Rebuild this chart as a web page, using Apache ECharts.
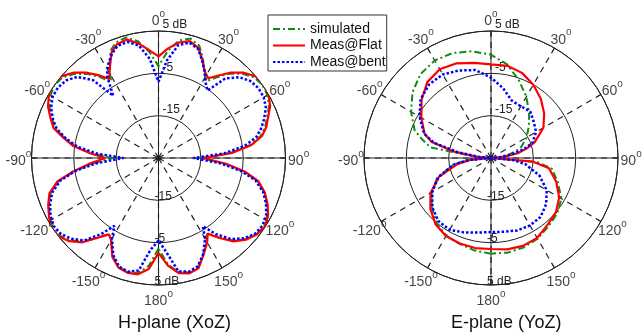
<!DOCTYPE html>
<html>
<head>
<meta charset="utf-8">
<script src="https://cdn.jsdelivr.net/npm/echarts@6/dist/echarts.min.js"></script>
<style>
  html, body { margin: 0; padding: 0; background: #fff; }
  #chart { width: 642px; height: 336px; }
</style>
</head>
<body>
<div id="chart"></div>
<script>
// H-plane (XoZ), angle in deg, gain in dB
var hAngles = [-180,-175,-170,-165,-160,-155,-150,-147,-143,-138,-133,-128,-123,-118,-113,-108,-103,-99,-95,-90,
  -86,-82,-78,-74,-70,-65,-60,-55,-50,-45,-40,-36,-32,-28,-24,-20,-15,-10,-5,0,
  5,10,15,20,24,28,32,36,40,45,50,55,60,65,70,74,78,82,86,90,
  95,99,103,108,113,118,123,128,133,138,143,147,150,155,160,165,170,175,180];
var hSim = [-3.6,0.5,2.6,2.9,2.4,0.6,-2.6,-3.6,-1.6,1.6,3.5,4.7,5.0,4.1,3.1,1.8,-0.8,-4.8,-9,-14.3,
  -9,-5,-2.3,0.4,1.7,3.4,4.5,5.0,4.6,3.1,0.9,-1.3,-3.8,-0.3,2.8,4.1,4.5,3.0,0.2,-3.3,
  0.4,3.2,4.2,3.2,0.8,-2.0,-3.6,-1.4,1.0,3.1,4.6,5.0,4.7,3.8,2.2,1.2,-0.4,-3.2,-8,-15,
  -9.2,-4.6,-1,1.2,2.8,4.1,4.7,4.3,3.1,1.3,-1.6,-3.8,-2.2,0,2.4,3.0,2.4,0.2,-3.6];
var hFlat = [-2.6,1.3,2.9,3.1,2.6,0.8,-2.6,-3.5,-1.5,1.8,3.8,5.0,5.3,4.3,3.3,2.1,-0.5,-4.6,-8.4,-12.4,
  -8.8,-4.7,-2,0.8,2.1,3.8,4.9,5.4,5.0,3.5,1.3,-0.8,-3.0,-0.6,2.3,3.6,4.0,2.5,0.6,-1.0,
  1.0,2.7,3.6,2.6,0.4,-1.8,-2.8,-0.9,1.3,3.5,5.0,5.3,5.0,4.1,2.5,1.5,0,-2.8,-7.5,-14.3,
  -8.8,-4.3,-0.8,1.4,3.0,4.3,4.9,4.4,3.3,1.5,-1.4,-3.7,-2.0,0.2,2.7,3.2,2.6,0.5,-2.6];
var hBent = [-5.5,-3.2,2.0,2.8,2.3,0.3,-3.0,-5.9,-2.5,1.2,3.0,4.2,4.5,3.9,2.8,1.4,-1.2,-5.0,-10,-16.7,
  -10.5,-5.6,-2.6,0,1.5,3.0,3.9,4.0,3.5,2.1,-1.0,-6.8,-2.0,0.2,2.0,3.2,3.4,2.0,-1.5,-7.0,
  -1.8,2.1,3.2,2.4,0.3,-1.8,-4,-5.3,-0.5,2.0,3.3,3.8,3.7,3.0,1.5,0.2,-1.4,-4.5,-9.5,-16.7,
  -10.2,-5.2,-1.5,1.0,2.6,3.8,4.3,4.0,2.8,0.8,-2.5,-5.8,-3.0,0,2.2,2.8,2.2,-2.5,-5.5];

// E-plane (YoZ)
var eAngles = [-180,-170,-160,-150,-140,-130,-120,-110,-100,-95,-90,-85,-80,-75,-70,-60,-50,-40,-30,-20,-10,0,
  10,20,30,40,50,60,70,75,80,85,90,95,100,110,120,130,140,150,160,170,180];
var eSim = [-2.4,-2.8,-3.4,-3.8,-5.0,-6.8,-8.8,-11.5,-16,-19,-25,-21,-10.5,-8.2,-5.8,-3.2,-0.8,0.9,1.6,1.4,0.6,-0.6,
  -2.6,-5.6,-8.3,-11,-13.3,-15.3,-17.4,-19,-21,-23,-25,-14,-10.4,-8.2,-5.8,-4.6,-3.9,-3.0,-2.5,-2.3,-2.4];
var eFlat = [-3.5,-3.4,-3.5,-3.7,-4.6,-6.3,-8.5,-11.9,-17,-20,-25,-21.7,-15.9,-10.5,-8.3,-6.0,-3.6,-1.6,-0.8,-1.2,-2.2,-2.9,
  -2.9,-3.6,-5.0,-6.7,-8.6,-10.7,-14,-16.2,-18.6,-22,-25,-15,-11.1,-8.6,-6.4,-5.0,-4.3,-3.2,-2.9,-3.1,-3.5];
var eBent = [-7.5,-7.1,-6.3,-5.4,-5.6,-6.9,-9.0,-11.8,-16,-20,-25,-22,-17,-11,-8.2,-5.5,-3.3,-2.3,-2.2,-3.0,-3.9,-6.0,
  -8.3,-10.6,-10.9,-10.6,-11.8,-12.7,-14.6,-17,-20,-23,-25,-20,-16.8,-12.8,-9.8,-8.0,-6.8,-6.6,-6.8,-7.3,-7.5];

var rTicks = ['-25', '-15', '-5', '5 dB'];   // radial tick labels, axis starts at -25 dB
var angleTicks = [-150, -120, -90, -60, -30, 0, 30, 60, 90, 120, 150, 180];
var names = ['simulated', 'Meas@Flat', 'Meas@bent'];
var centers = [[158.5, 158], [491, 158]];
var R = 127;
var LABEL_R = 33.1;   // angle labels sit a little outside the 5 dB ring (radius units)
var FONT = '"Liberation Sans", Arial, sans-serif';

function toPolar(angles, vals) {
  return angles.map(function (a, i) { return [Math.max(0, vals[i] + 25), a]; });
}

var polars = [], angleAxes = [], radiusAxes = [], series = [];
var styles = [
  { color: '#118a11', width: 2, type: [7, 3, 2, 3] },
  { color: '#ff0000', width: 2.2, type: 'solid' },
  { color: '#0000ff', width: 2.5, type: [2.5, 2] }
];

centers.forEach(function (c, k) {
  // main polar: dashed spokes, circles, bottom radius labels
  polars.push({ center: c, radius: R });
  // overlay polar: solid cross, top radius labels
  polars.push({ center: c, radius: R });
  var p0 = k * 2, p1 = k * 2 + 1;

  angleAxes.push({
    polarIndex: p0, type: 'value', min: -180, max: 180, interval: 30,
    startAngle: 270, clockwise: true,
    axisLine: { lineStyle: { color: '#222', width: 1 } },
    axisTick: { show: true, inside: true, length: 5, lineStyle: { color: '#222' } },
    splitLine: { show: true, lineStyle: { color: '#222', width: 1.2, type: [6, 5] } },
    axisLabel: { show: false }
  });
  angleAxes.push({
    polarIndex: p1, type: 'value', min: -180, max: 180, interval: 90,
    startAngle: 90, clockwise: true,
    axisLine: { show: false }, axisTick: { show: false }, axisLabel: { show: false },
    splitLine: { show: true, lineStyle: { color: '#222', width: 1, type: 'solid' } }
  });

  radiusAxes.push({
    polarIndex: p0, type: 'value', min: 0, max: 30, interval: 10,
    axisLine: { show: false }, axisTick: { show: false },
    splitLine: { show: true, lineStyle: { color: '#222', width: 1 } },
    axisLabel: {
      margin: -4, align: 'left', verticalAlign: 'bottom', lineHeight: 7,
      fontSize: 12, color: '#222', fontFamily: FONT,
      formatter: function (v) { return v === 0 ? '' : rTicks[v / 10]; }
    }
  });
  radiusAxes.push({
    polarIndex: p1, type: 'value', min: 0, max: 30, interval: 10,
    axisLine: { show: false }, axisTick: { show: false },
    splitLine: { show: false },
    axisLabel: {
      margin: -4, align: 'left', verticalAlign: 'bottom',
      fontSize: 12, color: '#222', fontFamily: FONT,
      formatter: function (v) { return v === 0 ? '' : rTicks[v / 10]; }
    }
  });

  var angles = k === 0 ? hAngles : eAngles;
  var sets = k === 0 ? [hSim, hFlat, hBent] : [eSim, eFlat, eBent];
  sets.forEach(function (vals, j) {
    series.push({
      name: names[j], type: 'line', coordinateSystem: 'polar', polarIndex: p0,
      symbol: 'none', smooth: false, z: 3 + j,
      lineStyle: styles[j], itemStyle: { color: styles[j].color },
      data: toPolar(angles, vals)
    });
  });

  // angle tick labels, centred just outside the outer ring
  series.push({
    name: 'angleTicks' + k,
    type: 'scatter', coordinateSystem: 'polar', polarIndex: p0,
    silent: true, clip: false, symbol: 'circle', symbolSize: 1,
    itemStyle: { color: 'rgba(255,255,255,0)' },
    z: 10,
    data: angleTicks.map(function (a) { return [LABEL_R, a]; }),
    label: {
      show: true, position: 'inside', offset: [0, 3], color: '#111',
      formatter: function (p) { return '{n|' + p.value[1] + '}{s|o}'; },
      rich: {
        n: { fontSize: 14, lineHeight: 24, color: '#111', fontFamily: FONT },
        s: { fontSize: 10, lineHeight: 10, verticalAlign: 'top', color: '#111', fontFamily: FONT }
      }
    }
  });
});

var myChart = echarts.init(document.getElementById('chart'));
var option = {
  animation: false,
  backgroundColor: '#fff',
  title: [
    { text: 'H-plane (XoZ)', left: 118, top: 314, padding: 0,
      textStyle: { fontSize: 18, fontWeight: 'normal', color: '#111', fontFamily: FONT } },
    { text: 'E-plane (YoZ)', left: 451, top: 314, padding: 0,
      textStyle: { fontSize: 18, fontWeight: 'normal', color: '#111', fontFamily: FONT } }
  ],
  legend: {
    data: names, orient: 'vertical', left: 268, top: 15,
    padding: [7, 1, 2, 4], itemGap: 2.5, itemWidth: 32, itemHeight: 14,
    backgroundColor: '#fff', borderColor: '#333', borderWidth: 1, borderRadius: 0,
    itemStyle: { opacity: 0, borderWidth: 0, color: 'rgba(0,0,0,0)' },
    lineStyle: { width: 2 },
    textStyle: { fontSize: 14, lineHeight: 14, color: '#111', fontFamily: FONT }
  },
  polar: polars,
  angleAxis: angleAxes,
  radiusAxis: radiusAxes,
  series: series
};
myChart.setOption(option);
</script>
</body>
</html>
